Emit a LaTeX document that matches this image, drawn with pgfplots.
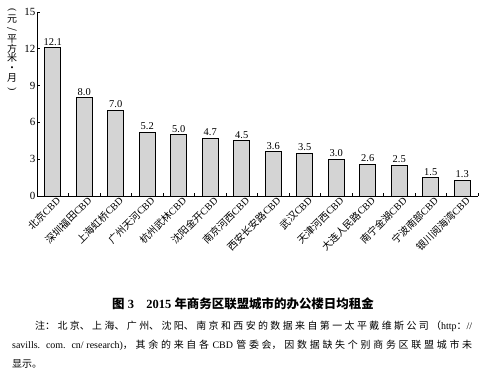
\documentclass[border=0pt]{standalone}
\usepackage{fontspec}
\usepackage{graphicx}
\usepackage{pgfplots}
\pgfplotsset{compat=1.18}
\setmainfont{Liberation Serif}
\newfontfamily\cjk{Noto Sans CJK SC}
\XeTeXlinebreaklocale "zh"
\XeTeXlinebreakskip = 0pt plus 4pt
\begin{document}
\begin{tikzpicture}
\path (0,0) rectangle (486bp,375bp);
\begin{axis}[
  at={(37bp,179bp)}, anchor=south west,
  scale only axis, width=441bp, height=184bp,
  xmin=-0.5, xmax=13.5, ymin=0, ymax=15,
  axis x line*=bottom, axis y line*=left,
  axis line style={-, line width=0.8pt},
  ytick={0,3,6,9,12,15},
  xtick={0,...,13},
  minor xtick={0.5,1.5,...,13.5},
  major x tick style={draw=none},
  minor x tick style={black, line width=0.6pt},
  y tick style={black, line width=0.6pt},
  tick align=inside,
  major tick length=3bp, minor tick length=3bp,
  /pgf/number format/assume math mode=true,
  yticklabel style={font=\fontsize{11}{11}\selectfont, inner sep=1.5bp},
  xticklabels={{{\cjk 北京}CBD},{{\cjk 深圳福田}CBD},{{\cjk 上海虹桥}CBD},{{\cjk 广州天河}CBD},{{\cjk 杭州武林}CBD},{{\cjk 沈阳金开}CBD},{{\cjk 南京河西}CBD},{{\cjk 西安长安路}CBD},{{\cjk 武汉}CBD},{{\cjk 天津河西}CBD},{{\cjk 大连人民路}CBD},{{\cjk 南宁金湖}CBD},{{\cjk 宁波南部}CBD},{{\cjk 银川阅海湾}CBD}},
  xticklabel style={rotate=45, anchor=north east, font=\fontsize{10}{10}\selectfont, inner sep=1bp, xshift=3bp},
  clip=false,
]
\addplot[ybar, bar width=16bp, fill=black!17, draw=black, line width=0.8pt,
  nodes near coords, nodes near coords style={font=\fontsize{10.5}{10.5}\selectfont, /pgf/number format/fixed, /pgf/number format/fixed zerofill, /pgf/number format/precision=1, /pgf/number format/assume math mode=true, inner sep=2bp}]
coordinates {(0,12.1) (1,8.0) (2,7.0) (3,5.2) (4,5.0) (5,4.7) (6,4.5) (7,3.6) (8,3.5) (9,3.0) (10,2.6) (11,2.5) (12,1.5) (13,1.3)};
\end{axis}
\node[align=center, font=\cjk\fontsize{10}{10}\selectfont, inner sep=0pt] at (12bp,325bp) {\rotatebox[origin=c]{-90}{\rmfamily(}\\元\\\rotatebox[origin=c]{-90}{/}\\平\\方\\米\\・\\月\\\rotatebox[origin=c]{-90}{\rmfamily)}};
\node[font=\fontsize{12.5}{13}\selectfont\bfseries, inner sep=0pt] at (243bp,71bp) {{\cjk 图} 3\quad 2015 {\cjk 年商务区联盟城市的办公楼日均租金}};
\node[anchor=north west, text width=460bp, align=justify, inner sep=0pt, font=\fontsize{10}{19}\selectfont] at (12bp,54bp) {\hspace*{23bp}{\cjk 注：北京、上海、广州、沈阳、南京和西安的数据来自第一太平戴维斯公司（}http{\cjk ：}//\linebreak savills. com. cn/research){\cjk ，其余的来自各} CBD {\cjk 管委会，因数据缺失个别商务区联盟城市未}\linebreak{\cjk 显示。}};
\end{tikzpicture}
\end{document}
